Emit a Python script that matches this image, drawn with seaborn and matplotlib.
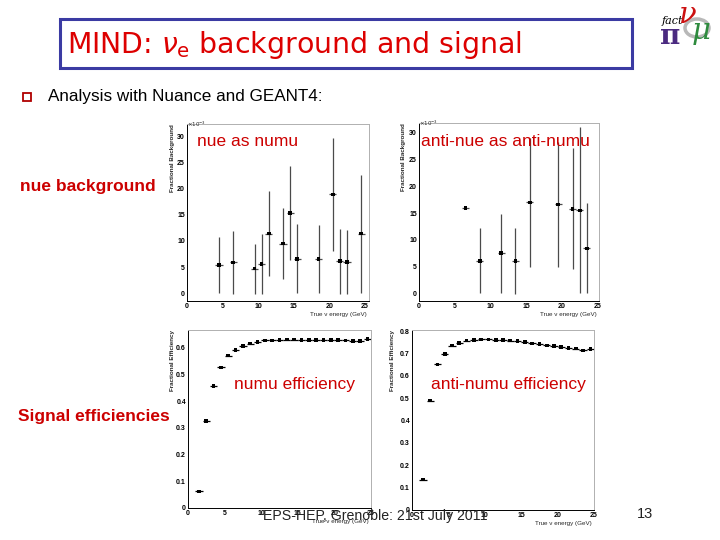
import numpy as np
import pandas as pd
import seaborn as sns
import matplotlib
matplotlib.use("Agg")
import matplotlib.pyplot as plt
from matplotlib.patches import Rectangle, Circle
from matplotlib.ticker import MultipleLocator

# ---------------- data ----------------
bg_nue_x = [4.5, 6.5, 9.5, 10.5, 11.5, 13.5, 14.5, 15.5, 18.5, 20.5, 21.5, 22.5, 24.5]
bg_nue_y = [5.4, 5.9, 4.7, 5.6, 11.4, 9.5, 15.4, 6.6, 6.6, 18.9, 6.1, 6.0, 11.4]
bg_nue_err = [5.4, 6.0, 4.8, 5.7, 8.1, 6.8, 9.0, 6.6, 6.5, 10.9, 6.2, 6.1, 11.3]

bg_anue_x = [6.5, 8.5, 11.5, 13.5, 15.5, 19.5, 21.5, 22.5, 23.5]
bg_anue_y = [16.0, 6.1, 7.5, 6.1, 17.0, 16.6, 15.8, 15.5, 8.4]
bg_anue_err = [0.0, 6.1, 7.4, 6.2, 12.0, 11.6, 11.3, 15.5, 8.4]

energy_bins = [1.5, 2.5, 3.5, 4.5, 5.5, 6.5, 7.5, 8.5, 9.5, 10.5, 11.5, 12.5,
               13.5, 14.5, 15.5, 16.5, 17.5, 18.5, 19.5, 20.5, 21.5, 22.5, 23.5, 24.5]
eff_numu = [0.062, 0.327, 0.456, 0.527, 0.571, 0.591, 0.606, 0.616, 0.621, 0.628,
            0.628, 0.629, 0.631, 0.631, 0.630, 0.629, 0.629, 0.629, 0.629, 0.629,
            0.628, 0.626, 0.627, 0.633]
eff_anumu = [0.136, 0.489, 0.651, 0.699, 0.735, 0.748, 0.758, 0.760, 0.763, 0.763,
             0.761, 0.759, 0.758, 0.757, 0.751, 0.745, 0.741, 0.736, 0.733, 0.729,
             0.726, 0.722, 0.714, 0.720]
bin_half_width = 0.5

# ---------------- style ----------------
sns.set_style("white")
plt.rcParams['font.family'] = ['Liberation Sans', 'DejaVu Sans']
plt.rcParams['mathtext.fontset'] = 'dejavusans'

W, H = 720, 540
fig = plt.figure(figsize=(7.2, 5.4), dpi=100)
fig.patch.set_facecolor('white')

def fx(px):
    return px / W

def fy(py):
    return 1 - py / H

RED = '#cc0000'

def style_axes(ax, xlim, ylim, ymaj, ymin, yfmt=None):
    ax.set_xlim(*xlim)
    ax.set_ylim(*ylim)
    ax.xaxis.set_major_locator(MultipleLocator(5))
    ax.xaxis.set_minor_locator(MultipleLocator(1))
    ax.yaxis.set_major_locator(MultipleLocator(ymaj))
    ax.yaxis.set_minor_locator(MultipleLocator(ymin))
    ax.tick_params(which='both', direction='in', top=False, right=False,
                   labelsize=5, pad=1.5, width=0.5, colors='black')
    ax.tick_params(which='major', length=3.5)
    ax.tick_params(which='minor', length=1.8)
    for lab in ax.get_xticklabels() + ax.get_yticklabels():
        lab.set_fontweight('bold')
    for s in ['left', 'bottom']:
        ax.spines[s].set_color('black')
        ax.spines[s].set_linewidth(0.7)
    for s in ['top', 'right']:
        ax.spines[s].set_color('#b0b0b0')
        ax.spines[s].set_linewidth(0.7)
    ax.set_xlabel('')
    ax.set_ylabel('')
    if yfmt:
        ax.yaxis.set_major_formatter(yfmt)

def axis_titles(ax, ytitle, xoff):
    ax.text(xoff, 1.0, ytitle, transform=ax.transAxes, rotation=90,
            ha='center', va='top', fontsize=4.5, fontweight='bold')
    ax.text(0.985, -0.075, 'True ν energy (GeV)', transform=ax.transAxes,
            ha='right', va='center', fontsize=4.5)

def draw_points(ax, x, y, yerr, ecolor):
    df = pd.DataFrame({'x': x, 'y': y})
    ax.errorbar(x, y, yerr=yerr, xerr=bin_half_width, fmt='none',
                ecolor=ecolor, elinewidth=0.9, capsize=0, zorder=2)
    sns.scatterplot(data=df, x='x', y='y', ax=ax, marker='s', s=7,
                    color='black', edgecolor='none', zorder=3, legend=False)

# Top-left: nue as numu
ax1 = fig.add_axes([fx(187), fy(301), fx(182), 177 / H])
draw_points(ax1, bg_nue_x, bg_nue_y, bg_nue_err, '#4a4a4a')
style_axes(ax1, (0, 25.6), (-1.5, 32.4), 5, 1)
axis_titles(ax1, 'Fractional Background', -0.082)
ax1.text(0.0, 1.0, r'$\times10^{-3}$', transform=ax1.transAxes,
         ha='left', va='center', fontsize=4)

# Top-right: anti-nue as anti-numu
ax2 = fig.add_axes([fx(419), fy(301), fx(180), 178 / H])
draw_points(ax2, bg_anue_x, bg_anue_y, bg_anue_err, '#4a4a4a')
style_axes(ax2, (0, 25.2), (-1.4, 31.8), 5, 1)
axis_titles(ax2, 'Fractional Background', -0.085)
ax2.text(0.0, 1.0, r'$\times10^{-3}$', transform=ax2.transAxes,
         ha='left', va='center', fontsize=4)

# Bottom-left: numu efficiency
fmt1 = matplotlib.ticker.FuncFormatter(lambda v, p: '0' if abs(v) < 1e-9 else f'{v:.1f}')
ax3 = fig.add_axes([fx(188), fy(508), fx(183), 178 / H])
draw_points(ax3, energy_bins, eff_numu, None, 'black')
style_axes(ax3, (0, 25), (0, 0.667), 0.1, 0.02, fmt1)
axis_titles(ax3, 'Fractional Efficiency', -0.085)

# Bottom-right: anti-numu efficiency
ax4 = fig.add_axes([fx(412), fy(510), fx(182), 180 / H])
draw_points(ax4, energy_bins, eff_anumu, None, 'black')
style_axes(ax4, (0, 25), (0, 0.805), 0.1, 0.02, fmt1)
axis_titles(ax4, 'Fractional Efficiency', -0.105)

# ---------------- slide decorations ----------------
fig.add_artist(Rectangle((fx(60), fy(68)), fx(572), 49 / H, transform=fig.transFigure,
                         fill=False, edgecolor='#3b3ba3', linewidth=2.2))
fig.text(fx(67), fy(45), r'MIND: $\nu_{\mathrm{e}}$ background and signal',
         family='DejaVu Sans', fontsize=20.4, color='#dd0000', ha='left', va='center')

fig.add_artist(Rectangle((fx(23), fy(101)), fx(8), 8 / H, transform=fig.transFigure,
                         fill=False, edgecolor='#b00000', linewidth=1.3))
fig.text(fx(48), fy(97), 'Analysis with Nuance and GEANT4:', fontsize=12.3,
         ha='left', va='center', color='black')

fig.text(fx(20), fy(187), 'nue background', fontsize=12.5, fontweight='bold',
         color=RED, ha='left', va='center')
fig.text(fx(18), fy(417), 'Signal efficiencies', fontsize=12.5, fontweight='bold',
         color=RED, ha='left', va='center')

fig.text(fx(197), fy(142), 'nue as numu', fontsize=12.5, color=RED, ha='left', va='center')
fig.text(fx(421), fy(141), 'anti-nue as anti-numu', fontsize=12.5, color=RED,
         ha='left', va='center')
fig.text(fx(234), fy(384), 'numu efficiency', fontsize=12.5, color=RED, ha='left', va='center')
fig.text(fx(431), fy(384), 'anti-numu efficiency', fontsize=12.5, color=RED,
         ha='left', va='center')

fig.text(fx(263), fy(516), 'EPS-HEP, Grenoble: 21st July 2011', fontsize=10.2,
         color='#222222', ha='left', va='center', zorder=10)
fig.text(fx(637), fy(514), '13', fontsize=10.5, color='#222222', ha='left', va='center')

# logo
fig.add_artist(Circle((fx(697), fy(28)), 12 / W, transform=fig.transFigure,
                      fill=False, edgecolor='#b8b8b8', linewidth=2.5))
fig.text(fx(672), fy(21), 'fact', family='DejaVu Serif', style='italic', fontsize=8,
         color='black', ha='center', va='center')
fig.text(fx(670), fy(36), 'π', family='DejaVu Serif', fontsize=20, color='#4b2a80',
         ha='center', va='center', fontweight='bold')
fig.text(fx(688), fy(1), 'ν', family='DejaVu Serif', fontsize=21, color='#cc1111',
         ha='center', va='top', style='italic')
fig.text(fx(701), fy(31), 'μ', family='DejaVu Serif', fontsize=21, color='#2e8b3e',
         ha='center', va='center', style='italic')

fig.savefig('out.png', dpi=100, facecolor='white')
